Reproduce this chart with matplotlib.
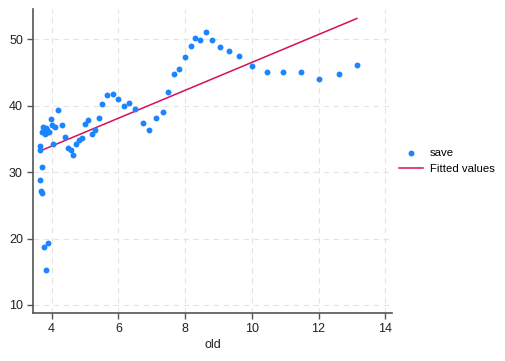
import numpy as np
import matplotlib
matplotlib.use("Agg")
import matplotlib.pyplot as plt

plt.rcParams['font.family'] = ['Liberation Sans', 'DejaVu Sans']

# scatter data (old, save)
old = [3.64, 3.66, 3.70, 3.65, 3.67, 3.70, 3.77, 3.90, 3.84,
       3.72, 3.75, 3.79, 3.82, 3.79, 3.85, 3.88, 3.92,
       3.97, 4.00, 4.03, 4.10, 4.20, 4.30, 4.40, 4.50, 4.57, 4.65,
       4.73, 4.83, 4.91, 5.00, 5.09, 5.20, 5.31, 5.41, 5.52, 5.67,
       5.83, 5.99, 6.16, 6.33, 6.51, 6.73, 6.93, 7.13, 7.33, 7.50,
       7.67, 7.83, 8.01, 8.17, 8.31, 8.44, 8.62, 8.82, 9.05, 9.32,
       9.63, 10.02, 10.47, 10.95, 11.48, 12.02, 12.60, 13.15]
save = [33.9, 33.4, 30.8, 28.8, 27.2, 26.8, 18.8, 19.4, 15.2,
        36.1, 36.85, 36.5, 36.7, 35.7, 36.3, 36.0, 36.1,
        38.0, 37.1, 34.2, 36.8, 39.3, 37.1, 35.3, 33.6, 33.4, 32.6,
        34.2, 34.9, 35.1, 37.3, 37.9, 35.7, 36.3, 38.1, 40.3, 41.6,
        41.8, 41.0, 40.0, 40.4, 39.5, 37.4, 36.4, 38.1, 39.0, 42.0,
        44.8, 45.6, 47.4, 49.0, 50.25, 49.9, 51.1, 49.85, 48.9, 48.3,
        47.5, 46.0, 45.0, 45.1, 45.0, 44.0, 44.7, 46.1]

x_ticks = [4, 6, 8, 10, 12, 14]
y_ticks = [10, 20, 30, 40, 50]

old = np.array(old)
save = np.array(save)
b, a = np.polyfit(old, save, 1)
xs = np.array([old.min(), old.max()])

fig = plt.figure(figsize=(5.05, 3.61), dpi=100)
ax = fig.add_axes([0.066, 0.134, 0.71, 0.84])

ax.scatter(old, save, s=18, color='#1a85ff', linewidths=0, label='save', zorder=3)
ax.plot(xs, a + b * xs, color='#d41159', lw=1.1, label='Fitted values', zorder=2)

ax.set_xlim(3.45, 14.2)
ax.set_ylim(8.85, 54.5)
ax.set_xticks(x_ticks)
ax.set_yticks(y_ticks)
ax.grid(True, color='#e4e4e4', linestyle=(0, (5, 4)), lw=0.8)
ax.set_axisbelow(True)

for s in ['top', 'right']:
    ax.spines[s].set_visible(False)
for s in ['left', 'bottom']:
    ax.spines[s].set_color('#555555')
    ax.spines[s].set_linewidth(1.2)
ax.tick_params(colors='#555555', labelcolor='#222222', labelsize=9,
               length=4, width=1)
ax.set_xlabel('old', fontsize=9, color='#222222', labelpad=3)

ax.legend(loc='center left', bbox_to_anchor=(0.79, 0.554),
          bbox_transform=fig.transFigure, frameon=False, borderaxespad=0,
          borderpad=0, fontsize=8.2, handlelength=2.1, handletextpad=0.6,
          labelspacing=0.5)

fig.savefig('out.png', dpi=100)
